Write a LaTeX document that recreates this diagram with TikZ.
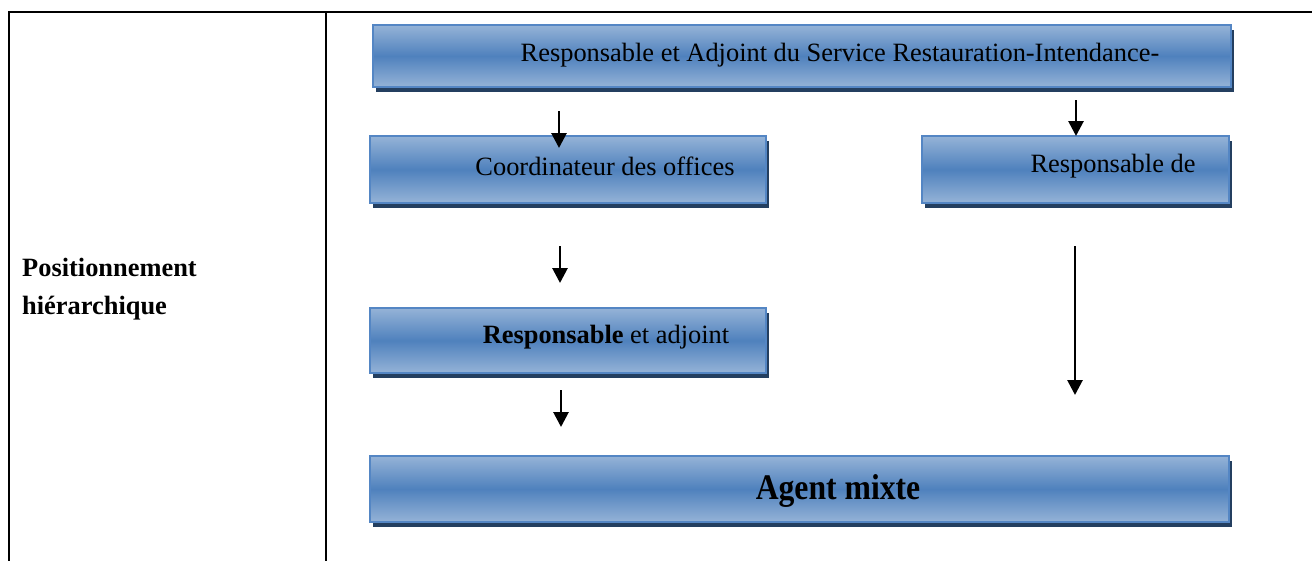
\documentclass[tikz,border=0pt]{standalone}
\usepackage{fontspec}
\setmainfont{Liberation Serif}
\usetikzlibrary{arrows.meta, shadows}
\definecolor{boxlight}{RGB}{149, 179, 215}
\definecolor{boxmid}{RGB}{79, 129, 189}
\definecolor{boxline}{RGB}{84, 134, 196}
\definecolor{boxshadow}{RGB}{36, 63, 96}

\begin{document}
\begin{tikzpicture}[x=1pt, y=-1pt,
    box/.style={rectangle, draw=boxline, line width=2pt, inner sep=0pt,
      top color=boxlight, bottom color=boxlight, middle color=boxmid,
      drop shadow={shadow xshift=3pt, shadow yshift=-5pt, fill=boxshadow, opacity=1}},
    lbl/.style={font=\fontsize{26.4}{30}\selectfont, inner sep=0pt},
    arrow/.style={-{Triangle[length=15pt, width=15pt]}, line width=2.8pt, black},
    rule/.style={line width=2.8pt, black},
  ]
    \useasboundingbox (0,0) rectangle (1312,560);

    \coordinate (tl) at (9,12);
    \coordinate (tr) at (1314,12);
    \coordinate (bl) at (9,562);
    \coordinate (dt) at (326,12);
    \coordinate (db) at (326,562);
    \draw[rule] (tr) -- (tl) -- (bl);
    \draw[rule] (dt) -- (db);

    \node[font=\fontsize{26.4}{38}\selectfont\bfseries, align=left, anchor=west, inner sep=0pt]
      (pos) at (22,289) {Positionnement\\hiérarchique};

    \node[box, minimum width=858, minimum height=62] (resp) at (802,56) {};
    \node[lbl] (respT) at (840,55) {Responsable et Adjoint du Service Restauration-Intendance-};

    \node[box, minimum width=396, minimum height=67] (coord) at (568,169.5) {};
    \node[lbl] (coordT) at (605,166) {Coordinateur des offices};

    \node[box, minimum width=307, minimum height=67] (respde) at (1075.5,169.5) {};
    \node[lbl] (respdeT) at (1113,166) {Responsable de};

    \node[box, minimum width=396, minimum height=65] (adj) at (568,340.5) {};
    \node[lbl] (adjT) at (606,337) {\textbf{Responsable} et adjoint};

    \node[box, minimum width=859, minimum height=66] (agent) at (799.5,489) {};
    \node[inner sep=0pt] (agentT) at (838,491)
      {\scalebox{0.88}[1]{\fontsize{36}{40}\selectfont\bfseries Agent mixte}};

    \coordinate (a1s) at (559,111);
    \coordinate (a1e) at (559,148);
    \coordinate (a2s) at (1076,100);
    \coordinate (a2e) at (1076,136);
    \coordinate (a3s) at (560,246);
    \coordinate (a3e) at (560,283);
    \coordinate (a4s) at (1075,246);
    \coordinate (a4e) at (1075,395);
    \coordinate (a5s) at (561,390);
    \coordinate (a5e) at (561,427);

    \draw[arrow] (a1s) -- (a1e);
    \draw[arrow] (a2s) -- (a2e);
    \draw[arrow] (a3s) -- (a3e);
    \draw[arrow] (a4s) -- (a4e);
    \draw[arrow] (a5s) -- (a5e);
  \end{tikzpicture}
\end{document}
